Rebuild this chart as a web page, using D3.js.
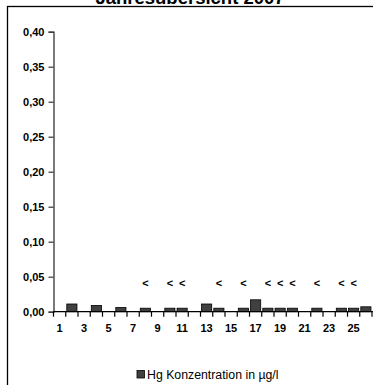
<!DOCTYPE html>
<html><head><meta charset="utf-8">
<script src="https://cdn.jsdelivr.net/npm/d3@7"></script>
<style>body{margin:0;background:#fff}svg{display:block}</style>
</head><body>
<script>
const title = "Jahresübersicht  2007";
const categories = d3.range(1, 27).map(String);
const values = [null,0.011,null,0.009,null,0.006,null,0.005,null,0.005,0.005,null,0.011,0.005,null,0.005,0.017,0.005,0.005,0.005,null,0.005,null,0.005,0.005,0.007];
const belowLimit = ["8","10","11","14","16","18","19","20","22","24","25"];
const yTicks = [0,0.05,0.10,0.15,0.20,0.25,0.30,0.35,0.40];
const xLabels = categories.filter((c,i)=>i%2===0);
const legendLabel = "Hg Konzentration in µg/l";

const W=373,H=385;
const svg=d3.select("body").append("svg").attr("width",W).attr("height",H);
const font="'Liberation Sans', Arial, sans-serif";

// frame
svg.append("rect").attr("x",7.5).attr("y",6.5).attr("width",W+10).attr("height",H+10)
  .attr("fill","none").attr("stroke","#000").attr("stroke-width",1.3);

// title
svg.append("text").attr("x",190).attr("y",4).attr("text-anchor","middle")
  .attr("font-family",font).attr("font-weight","bold").attr("font-size",18.5).text(title);

const x=d3.scaleBand().domain(categories).range([53.5,53.5+26*12.25]).paddingInner(0.17).paddingOuter(0.085);
const y=d3.scaleLinear().domain([0,0.4]).range([311.7,31.7]);

// bars
svg.append("g").selectAll("rect").data(categories.map((c,i)=>({c,v:values[i]})).filter(d=>d.v!=null))
  .join("rect").attr("x",d=>x(d.c)).attr("width",x.bandwidth())
  .attr("y",d=>y(d.v)).attr("height",d=>y(0)-y(d.v))
  .attr("fill","#404040").attr("stroke","#000").attr("stroke-width",0.8);

// y axis
const ya=svg.append("g").attr("transform","translate(53.5,0)")
  .call(d3.axisLeft(y).tickValues(yTicks).tickSize(5).tickPadding(4)
    .tickFormat(d=>d3.format(".2f")(d).replace(".",",")));
ya.select(".domain").attr("stroke","#333").attr("stroke-width",1.3);
ya.selectAll(".tick line").attr("stroke","#333").attr("stroke-width",1.2);
ya.selectAll("text").attr("font-family",font).attr("font-weight","bold").attr("font-size",11).attr("fill","#000");

// x axis
const xa=svg.append("g").attr("transform",`translate(0,${y(0)})`);
xa.append("line").attr("x1",53.5).attr("x2",W).attr("stroke","#000").attr("stroke-width",1.3);
xa.selectAll(".tk").data(d3.range(0,27)).join("line").attr("class","tk")
  .attr("x1",i=>53.5+i*12.25).attr("x2",i=>53.5+i*12.25).attr("y1",0).attr("y2",5)
  .attr("stroke","#000").attr("stroke-width",1.2);
xa.selectAll(".lb").data(xLabels).join("text").attr("class","lb")
  .attr("x",d=>x(d)+x.bandwidth()/2).attr("y",20.5).attr("text-anchor","middle")
  .attr("font-family",font).attr("font-weight","bold").attr("font-size",11).text(d=>d);

// "<" markers
svg.append("g").selectAll("text").data(belowLimit).join("text")
  .attr("x",d=>x(d)+x.bandwidth()/2).attr("y",287).attr("text-anchor","middle")
  .attr("font-family",font).attr("font-weight","bold").attr("font-size",11).text("<");

// legend
const lg=svg.append("g");
lg.append("rect").attr("x",137).attr("y",370.5).attr("width",7.5).attr("height",7.5)
  .attr("fill","#404040").attr("stroke","#000").attr("stroke-width",0.8);
lg.append("text").attr("x",147).attr("y",379).attr("font-family",font).attr("font-size",12.3).text(legendLabel);
</script>
</body></html>
